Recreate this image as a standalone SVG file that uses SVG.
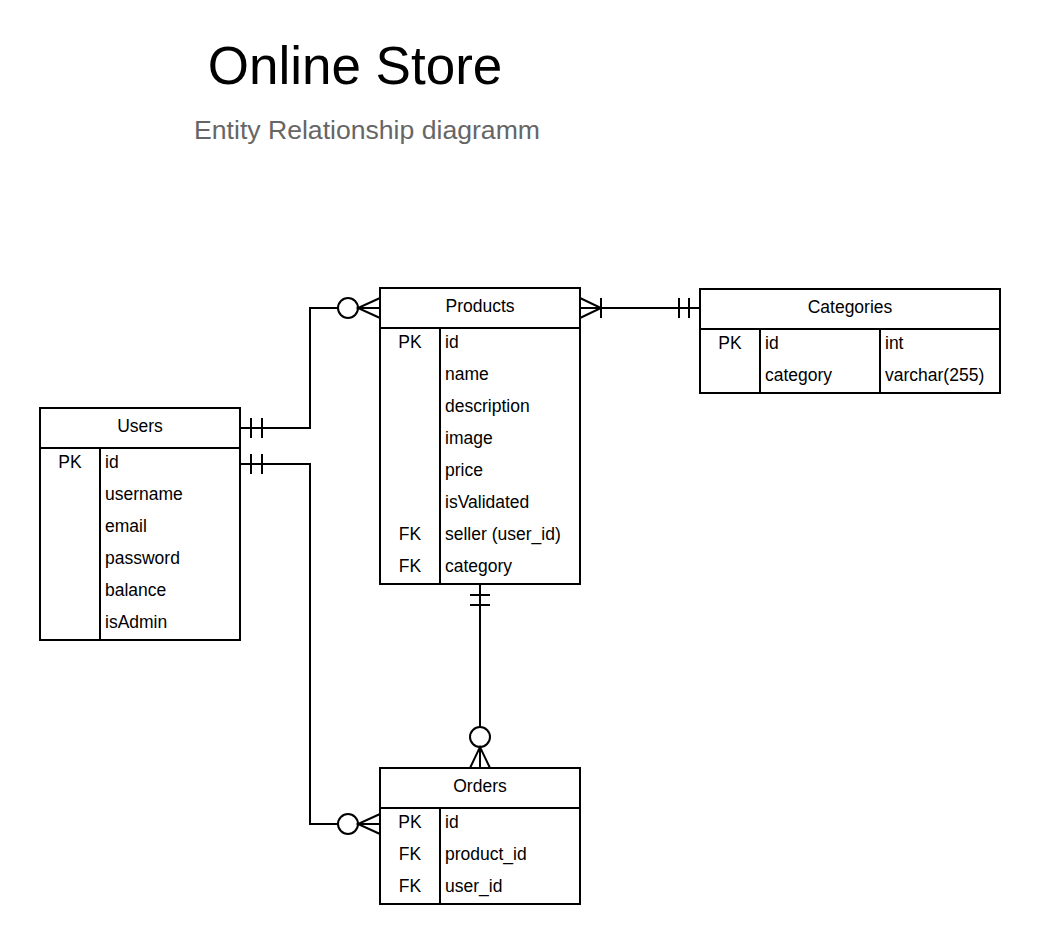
<svg xmlns="http://www.w3.org/2000/svg" width="1040" height="944" viewBox="0 0 1040 944">
<style>
.box{fill:#fff;stroke:#000;stroke-width:2}
.ln{fill:none;stroke:#000;stroke-width:2}
.t{font-family:"Liberation Sans",Arial,sans-serif;font-size:17.5px;fill:#000}
.c{text-anchor:middle}
.title{font-family:"Liberation Sans",Arial,sans-serif;font-size:53px;fill:#000;text-anchor:middle}
.sub{font-family:"Liberation Sans",Arial,sans-serif;font-size:26.6px;fill:#666;text-anchor:middle}
</style>
<rect width="1040" height="944" fill="#fff"/>
<text class="title" x="355" y="84">Online Store</text>
<text class="sub" x="367" y="139">Entity Relationship diagramm</text>

<g id="connectors">
  <!-- Users -> Products -->
  <path class="ln" d="M240,428 H310 V308 H338"/>
  <line class="ln" x1="251" y1="418" x2="251" y2="438"/>
  <line class="ln" x1="262" y1="418" x2="262" y2="438"/>
  <circle class="ln" cx="348" cy="308" r="10"/>
  <path class="ln" d="M380,298 L358,308 L380,318 M358,308 H380"/>
  <!-- Users -> Orders -->
  <path class="ln" d="M240,464 H310 V824 H338"/>
  <line class="ln" x1="251" y1="454" x2="251" y2="474"/>
  <line class="ln" x1="262" y1="454" x2="262" y2="474"/>
  <circle class="ln" cx="348" cy="824" r="10"/>
  <path class="ln" d="M380,814 L358,824 L380,834 M358,824 H380"/>
  <!-- Products -> Categories -->
  <path class="ln" d="M580,308 H700"/>
  <path class="ln" d="M580,298 L601,308 L580,318"/>
  <line class="ln" x1="601" y1="298" x2="601" y2="318"/>
  <line class="ln" x1="679" y1="298" x2="679" y2="318"/>
  <line class="ln" x1="689" y1="298" x2="689" y2="318"/>
  <!-- Products -> Orders -->
  <path class="ln" d="M480,584 V727"/>
  <line class="ln" x1="470" y1="595" x2="490" y2="595"/>
  <line class="ln" x1="470" y1="605" x2="490" y2="605"/>
  <circle class="ln" cx="480" cy="737" r="10"/>
  <path class="ln" d="M470,768 L480,747 L490,768 M480,747 V768"/>
</g>

<g id="users">
  <rect class="box" x="40" y="408" width="200" height="232"/>
  <line class="ln" x1="40" y1="448" x2="240" y2="448"/>
  <line class="ln" x1="100" y1="448" x2="100" y2="640"/>
  <text class="t c" x="140" y="432">Users</text>
  <text class="t c" x="70" y="468">PK</text>
  <text class="t" x="105" y="468">id</text>
  <text class="t" x="105" y="500">username</text>
  <text class="t" x="105" y="532">email</text>
  <text class="t" x="105" y="564">password</text>
  <text class="t" x="105" y="596">balance</text>
  <text class="t" x="105" y="628">isAdmin</text>
</g>

<g id="products">
  <rect class="box" x="380" y="288" width="200" height="296"/>
  <line class="ln" x1="380" y1="328" x2="580" y2="328"/>
  <line class="ln" x1="440" y1="328" x2="440" y2="584"/>
  <text class="t c" x="480" y="312">Products</text>
  <text class="t c" x="410" y="348">PK</text>
  <text class="t" x="445" y="348">id</text>
  <text class="t" x="445" y="380">name</text>
  <text class="t" x="445" y="412">description</text>
  <text class="t" x="445" y="444">image</text>
  <text class="t" x="445" y="476">price</text>
  <text class="t" x="445" y="508">isValidated</text>
  <text class="t c" x="410" y="540">FK</text>
  <text class="t" x="445" y="540">seller (user_id)</text>
  <text class="t c" x="410" y="572">FK</text>
  <text class="t" x="445" y="572">category</text>
</g>

<g id="categories">
  <rect class="box" x="700" y="289" width="300" height="104"/>
  <line class="ln" x1="700" y1="329" x2="1000" y2="329"/>
  <line class="ln" x1="760" y1="329" x2="760" y2="393"/>
  <line class="ln" x1="880" y1="329" x2="880" y2="393"/>
  <text class="t c" x="850" y="313">Categories</text>
  <text class="t c" x="730" y="349">PK</text>
  <text class="t" x="765" y="349">id</text>
  <text class="t" x="885" y="349">int</text>
  <text class="t" x="765" y="381">category</text>
  <text class="t" x="885" y="381">varchar(255)</text>
</g>

<g id="orders">
  <rect class="box" x="380" y="768" width="200" height="136"/>
  <line class="ln" x1="380" y1="808" x2="580" y2="808"/>
  <line class="ln" x1="440" y1="808" x2="440" y2="904"/>
  <text class="t c" x="480" y="792">Orders</text>
  <text class="t c" x="410" y="828">PK</text>
  <text class="t" x="445" y="828">id</text>
  <text class="t c" x="410" y="860">FK</text>
  <text class="t" x="445" y="860">product_id</text>
  <text class="t c" x="410" y="892">FK</text>
  <text class="t" x="445" y="892">user_id</text>
</g>
</svg>
